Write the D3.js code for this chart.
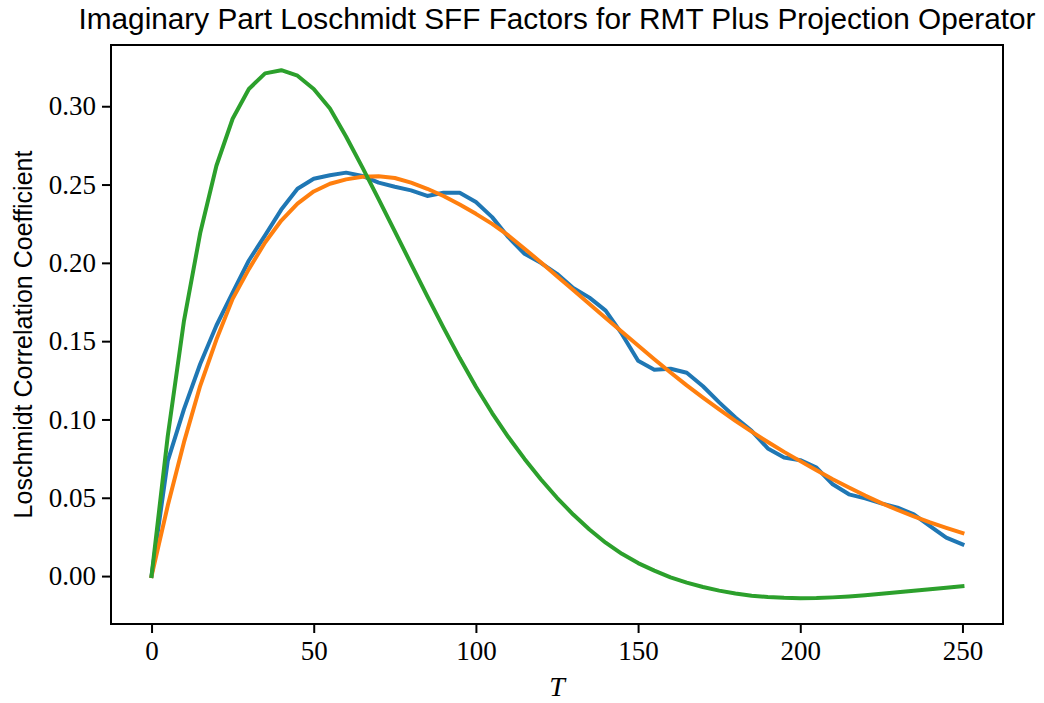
<!DOCTYPE html>
<html>
<head>
<meta charset="utf-8">
<script src="https://cdn.jsdelivr.net/npm/d3@7"></script>
<style>
  html, body { margin: 0; padding: 0; background: #fff; }
  svg { display: block; }
</style>
</head>
<body>
<svg id="chart" width="1044" height="703"></svg>
<script>
// ---- data ----
const T = [0,5,10,15,20,25,30,35,40,45,50,55,60,65,70,75,80,85,90,95,100,105,110,115,120,125,130,135,140,145,150,155,160,165,170,175,180,185,190,195,200,205,210,215,220,225,230,235,240,245,250];
const blueSeries = [0,0.0735,0.1066,0.1354,0.1600,0.1810,0.2015,0.2175,0.2340,0.2473,0.2537,0.2559,0.2576,0.2555,0.2512,0.2486,0.2463,0.2427,0.2448,0.2448,0.2388,0.2292,0.2164,0.2058,0.2000,0.1930,0.1840,0.1778,0.1695,0.1546,0.1375,0.1318,0.1324,0.1298,0.1212,0.1109,0.1013,0.0927,0.0815,0.0757,0.0740,0.0693,0.0586,0.0522,0.0496,0.0464,0.0437,0.0394,0.0319,0.0245,0.0202];
const orangeSeries = [0,0.0450,0.0855,0.1215,0.1510,0.1770,0.1960,0.2130,0.2270,0.2378,0.2456,0.2505,0.2533,0.2550,0.2553,0.2542,0.2512,0.2473,0.2427,0.2373,0.2313,0.2249,0.2175,0.2090,0.2004,0.1915,0.1826,0.1737,0.1648,0.1560,0.1472,0.1385,0.1300,0.1218,0.1140,0.1064,0.0991,0.0922,0.0856,0.0793,0.0734,0.0676,0.0618,0.0566,0.0514,0.0466,0.0422,0.0381,0.0343,0.0308,0.0275];
const greenSeries = [0,0.0895,0.1630,0.2190,0.2620,0.2920,0.3110,0.3210,0.3230,0.3195,0.3110,0.2985,0.2805,0.2610,0.2407,0.2201,0.1994,0.1788,0.1586,0.1392,0.1209,0.1041,0.0888,0.0748,0.0618,0.0500,0.0393,0.0297,0.0213,0.0142,0.0083,0.0035,-0.0008,-0.0042,-0.0070,-0.0093,-0.0111,-0.0125,-0.0134,-0.0139,-0.0141,-0.0140,-0.0136,-0.0130,-0.0122,-0.0113,-0.0104,-0.0094,-0.0084,-0.0074,-0.0064];
const xTicks = [0,50,100,150,200,250];
const yTicks = [0.00,0.05,0.10,0.15,0.20,0.25,0.30];
const titleText = "Imaginary Part Loschmidt SFF Factors for RMT Plus Projection Operator";
const xLabelText = "T";
const yLabelText = "Loschmidt Correlation Coefficient";
const seriesColors = ["#1f77b4", "#ff7f0e", "#2ca02c"];

// ---- layout ----
const L = 111, R = 1003, TOP = 45, B = 624;
const svg = d3.select("#chart");

const x = d3.scaleLinear().domain([-12.5, 262.5]).range([L, R]);
const y = d3.scaleLinear().domain([-0.0306, 0.3391]).range([B, TOP]);

const serif = "'Liberation Serif', 'DejaVu Serif', serif";
const sans = "'Liberation Sans', 'DejaVu Sans', sans-serif";

// clip
svg.append("defs").append("clipPath").attr("id", "clip")
  .append("rect").attr("x", L).attr("y", TOP).attr("width", R - L).attr("height", B - TOP);

// lines
const line = d3.line().x((d, i) => x(T[i])).y(d => y(d)).curve(d3.curveLinear);
const g = svg.append("g").attr("clip-path", "url(#clip)");
[blueSeries, orangeSeries, greenSeries].forEach((s, k) => {
  g.append("path").datum(s)
    .attr("d", line)
    .attr("fill", "none")
    .attr("stroke", seriesColors[k])
    .attr("stroke-width", 4)
    .attr("stroke-linejoin", "round")
    .attr("stroke-linecap", "square");
});

// axes
const xAxis = d3.axisBottom(x).tickValues(xTicks).tickSize(9).tickPadding(8).tickFormat(d3.format("d"));
const yAxis = d3.axisLeft(y).tickValues(yTicks).tickSize(9).tickPadding(6).tickFormat(d3.format(".2f"));

const gx = svg.append("g").attr("transform", `translate(0,${B})`).call(xAxis);
const gy = svg.append("g").attr("transform", `translate(${L},0)`).call(yAxis);
[gx, gy].forEach(a => {
  a.select(".domain").remove();
  a.selectAll(".tick line").attr("stroke", "#000").attr("stroke-width", 2);
  a.selectAll(".tick text").attr("fill", "#000").attr("font-family", serif).attr("font-size", 27);
});
gx.selectAll(".tick text").attr("dy", "0.71em");

// frame
svg.append("rect").attr("x", L).attr("y", TOP).attr("width", R - L).attr("height", B - TOP)
  .attr("fill", "none").attr("stroke", "#000").attr("stroke-width", 2);

// title
const title = svg.append("text")
  .attr("x", (L + R) / 2).attr("y", 29)
  .attr("text-anchor", "middle")
  .attr("font-family", sans).attr("font-size", 30)
  .attr("fill", "#000")
  .text(titleText);
const tw = title.node().getComputedTextLength();
if (tw > 957) title.attr("textLength", 957).attr("lengthAdjust", "spacingAndGlyphs");

// x label
svg.append("text")
  .attr("x", (L + R) / 2).attr("y", 696)
  .attr("text-anchor", "middle")
  .attr("font-family", serif).attr("font-style", "italic").attr("font-size", 28)
  .attr("fill", "#000")
  .text(xLabelText);

// y label
const yl = svg.append("text")
  .attr("transform", `translate(32,${(TOP + B) / 2}) rotate(-90)`)
  .attr("text-anchor", "middle")
  .attr("font-family", sans).attr("font-size", 25)
  .attr("fill", "#000")
  .text(yLabelText);
const yw = yl.node().getComputedTextLength();
if (yw > 370) yl.attr("textLength", 370).attr("lengthAdjust", "spacingAndGlyphs");
</script>
</body>
</html>
